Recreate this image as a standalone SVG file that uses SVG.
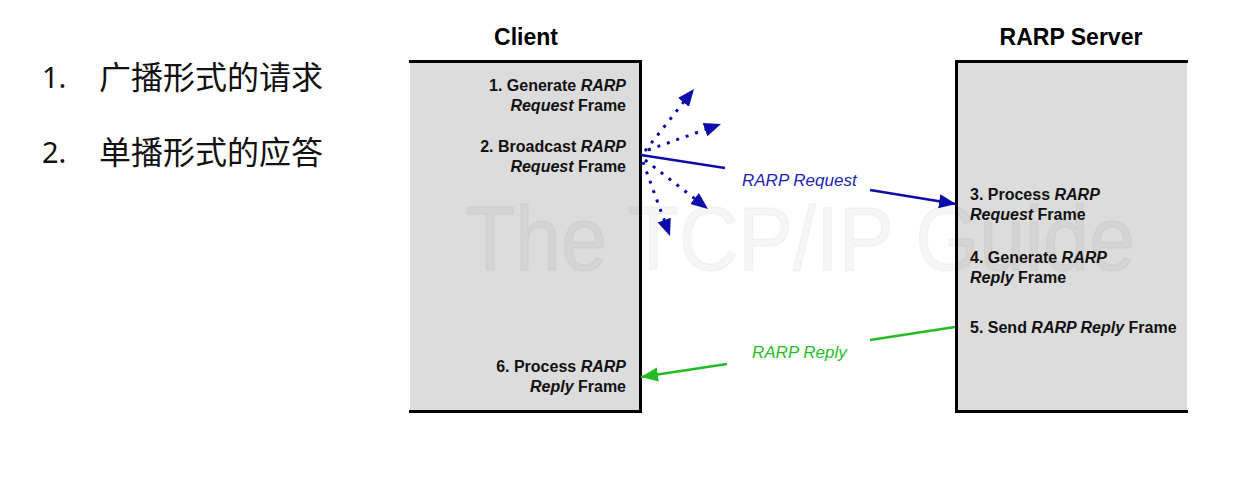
<svg xmlns="http://www.w3.org/2000/svg" width="1253" height="483" viewBox="0 0 1253 483">
<style>
.cjk{font-family:"Noto Sans","Noto Sans CJK SC",sans-serif;fill:#111;}
.title{font-family:"Liberation Sans",Arial,sans-serif;font-weight:bold;font-size:23px;fill:#000;text-anchor:middle;}
.step{font-family:"Liberation Sans",Arial,sans-serif;font-weight:bold;font-size:16px;fill:#111;}
.r{text-anchor:end;}
.it{font-style:italic;}
.box{fill:#dcdcdc;stroke:none;}
.border{stroke:#000;stroke-width:3;fill:none;}
.wm{font-family:"Liberation Sans",Arial,sans-serif;font-size:90px;fill:#000;fill-opacity:0.035;stroke:#000;stroke-opacity:0.035;stroke-width:1.5;}
.req{stroke:#0c0caa;stroke-width:2.5;fill:none;}
.bc{stroke:#0c0caa;stroke-width:3;fill:none;stroke-dasharray:3 7;}
.rep{stroke:#22bb22;stroke-width:2.5;fill:none;}
.lblb{font-family:"Liberation Sans",Arial,sans-serif;font-style:italic;font-size:17px;fill:#2424b4;}
.lblg{font-family:"Liberation Sans",Arial,sans-serif;font-style:italic;font-size:17px;fill:#2cbb2c;}
</style>
<defs>
<marker id="ab" markerUnits="userSpaceOnUse" markerWidth="20" markerHeight="16" refX="17" refY="7" orient="auto" viewBox="0 0 20 14">
<path d="M0,0 L17,7 L0,14 Z" fill="#0c0caa"/>
</marker>
<marker id="ag" markerUnits="userSpaceOnUse" markerWidth="20" markerHeight="16" refX="17" refY="7" orient="auto" viewBox="0 0 20 14">
<path d="M0,0 L17,7 L0,14 Z" fill="#22bb22"/>
</marker>
</defs>
<rect width="1253" height="483" fill="#fff"/>

<g id="list">
<text class="cjk" x="42" y="88" font-size="29">1.</text>
<text class="cjk" x="99" y="89" font-size="32">广播形式的请求</text>
<text class="cjk" x="42" y="163" font-size="29">2.</text>
<text class="cjk" x="99" y="164" font-size="32">单播形式的应答</text>
</g>

<g id="client">
<text class="title" x="526" y="45">Client</text>
<rect class="box" x="410" y="61" width="231" height="351"/>
<path class="border" d="M409,61.5 H640.5 V411.5 H409"/>
</g>

<g id="server">
<text class="title" x="1071" y="45">RARP Server</text>
<rect class="box" x="955" y="61" width="232" height="351"/>
<path class="border" d="M1188,61.5 H956.5 V411.5 H1188"/>
</g>

<text class="wm" x="465" y="270" textLength="670" lengthAdjust="spacingAndGlyphs">The TCP/IP Guide</text>

<g id="client-steps">
<text class="step r" x="626" y="91">1. Generate <tspan class="it">RARP</tspan></text>
<text class="step r" x="626" y="111"><tspan class="it">Request</tspan> Frame</text>
<text class="step r" x="626" y="152">2. Broadcast <tspan class="it">RARP</tspan></text>
<text class="step r" x="626" y="172"><tspan class="it">Request</tspan> Frame</text>
<text class="step r" x="626" y="372">6. Process <tspan class="it">RARP</tspan></text>
<text class="step r" x="626" y="392"><tspan class="it">Reply</tspan> Frame</text>
</g>

<g id="server-steps">
<text class="step" x="970" y="200">3. Process <tspan class="it">RARP</tspan></text>
<text class="step" x="970" y="220"><tspan class="it">Request</tspan> Frame</text>
<text class="step" x="970" y="263">4. Generate <tspan class="it">RARP</tspan></text>
<text class="step" x="970" y="283"><tspan class="it">Reply</tspan> Frame</text>
<text class="step" x="970" y="333">5. Send <tspan class="it">RARP Reply</tspan> Frame</text>
</g>

<g id="connectors">
<line class="bc" x1="645" y1="151" x2="694" y2="89" marker-end="url(#ab)"/>
<line class="bc" x1="648" y1="150" x2="721" y2="124" marker-end="url(#ab)"/>
<line class="bc" x1="645" y1="160" x2="708" y2="209" marker-end="url(#ab)"/>
<line class="bc" x1="643" y1="162" x2="670" y2="236" marker-end="url(#ab)"/>
<line class="req" x1="641" y1="155" x2="725" y2="168"/>
<text class="lblb" x="742" y="186">RARP Request</text>
<line class="req" x1="870" y1="190" x2="956" y2="204" marker-end="url(#ab)"/>
<line class="rep" x1="955" y1="327" x2="870" y2="340"/>
<text class="lblg" x="752" y="358">RARP Reply</text>
<line class="rep" x1="727" y1="364" x2="641" y2="377" marker-end="url(#ag)"/>
</g>
</svg>
